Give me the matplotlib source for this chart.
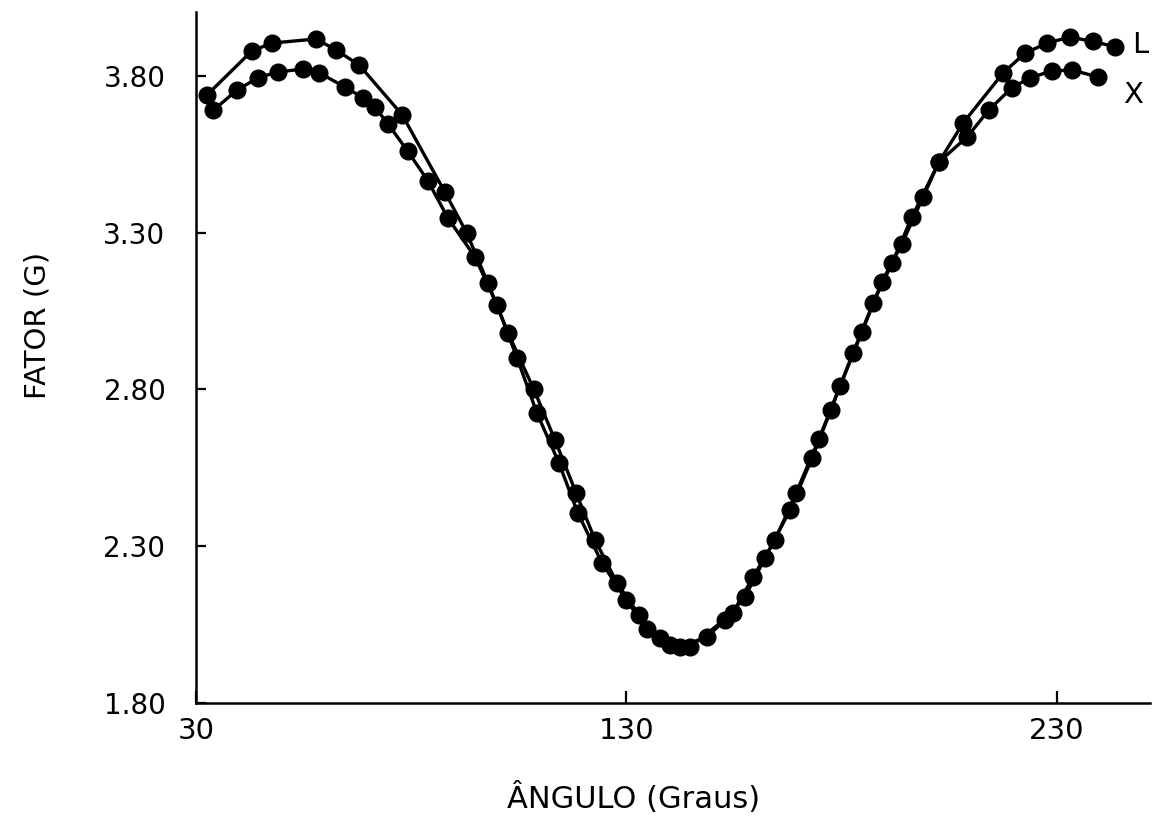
import numpy as np
import matplotlib.pyplot as plt

# curva L (angulo em graus, fator g)
ang_l = [32.6, 43.0, 47.7, 57.9, 62.5, 67.9, 77.9, 87.8, 92.9, 97.8,
         102.5, 108.5, 113.4, 118.3, 122.7, 127.8, 132.9, 137.8, 142.4, 148.7,
         152.9, 157.5, 162.2, 168.0, 173.1, 177.5, 182.6, 187.3, 191.7, 196.3,
         202.6, 208.2, 217.5, 222.6, 227.7, 233.0, 238.4, 243.5]
g_l = [3.740, 3.880, 3.905, 3.918, 3.883, 3.835, 3.676, 3.430, 3.299, 3.140,
       2.980, 2.800, 2.639, 2.470, 2.320, 2.183, 2.081, 2.007, 1.979, 2.011,
       2.065, 2.138, 2.263, 2.416, 2.581, 2.735, 2.916, 3.076, 3.203, 3.350,
       3.526, 3.650, 3.810, 3.873, 3.905, 3.924, 3.910, 3.893]

# curva X
ang_x = [34.0, 39.5, 44.4, 49.0, 54.9, 58.6, 64.6, 68.8, 71.6, 74.6,
         79.2, 83.9, 88.5, 94.8, 99.9, 104.6, 109.2, 114.3, 118.7, 124.3,
         129.9, 134.8, 140.1, 144.8, 154.7, 159.4, 164.5, 169.4, 174.7, 179.6,
         184.7, 189.3, 194.0, 198.9, 202.6, 209.1, 214.2, 219.5, 223.7, 228.8,
         233.5, 239.5]
g_x = [3.690, 3.755, 3.794, 3.813, 3.822, 3.810, 3.765, 3.730, 3.700, 3.647,
       3.560, 3.465, 3.347, 3.223, 3.070, 2.900, 2.725, 2.566, 2.406, 2.247,
       2.129, 2.036, 1.985, 1.979, 2.087, 2.202, 2.320, 2.470, 2.642, 2.811,
       2.983, 3.143, 3.265, 3.414, 3.526, 3.605, 3.692, 3.762, 3.794, 3.816,
       3.819, 3.797]

xticks = [30, 130, 230]
yticks = [1.80, 2.30, 2.80, 3.30, 3.80]

fig = plt.figure(figsize=(11.61, 8.23), dpi=100)
ax = fig.add_axes([0.1688, 0.1458, 0.8217, 0.8396])

for a, g in [(ang_l, g_l), (ang_x, g_x)]:
    ax.plot(a, g, '-', color='black', lw=2.4, marker='o', ms=12,
            markerfacecolor='black', markeredgecolor='black')

ax.text(249.3, 3.899, 'L', fontsize=21, ha='center', va='center')
ax.text(247.7, 3.739, 'X', fontsize=21, ha='center', va='center')

ax.set_xlim(30, 251.6)
ax.set_ylim(1.8, 4.004)
ax.set_xticks(xticks)
ax.set_xticklabels([str(t) for t in xticks])
ax.set_yticks(yticks)
ax.set_yticklabels(['%.2f' % t for t in yticks])

for s in ['top', 'right']:
    ax.spines[s].set_visible(False)
for s in ['left', 'bottom']:
    ax.spines[s].set_linewidth(1.8)

ax.tick_params(axis='x', direction='in', length=9, width=1.6, labelsize=21, pad=10)
ax.tick_params(axis='y', direction='in', length=7, width=1.6, labelsize=20, pad=22)

ax.set_xlabel('\u00c2NGULO (Graus)', fontsize=22)
ax.set_ylabel('FATOR (G)', fontsize=21)
ax.xaxis.set_label_coords(0.459, -0.115)
ax.yaxis.set_label_coords(-0.151, 0.547)

fig.savefig('out.png', dpi=100)
